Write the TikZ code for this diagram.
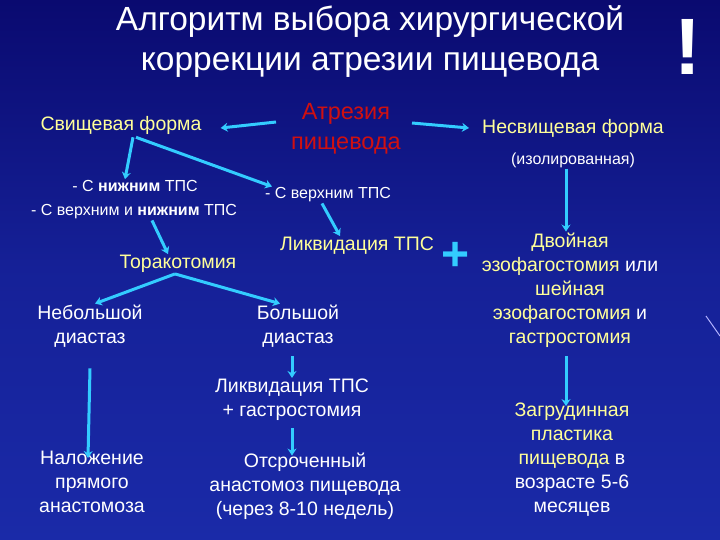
\documentclass[tikz,border=0pt]{standalone}
\usepackage{fontspec}
\setmainfont{Liberation Sans}
\usetikzlibrary{arrows.meta}
\definecolor{bgA}{HTML}{0A0A70}
\definecolor{bgB}{HTML}{1A2AA8}
\definecolor{yel}{HTML}{FFFF99}
\definecolor{redt}{HTML}{D01010}
\definecolor{arr}{HTML}{33CCFF}
\tikzset{
  y=-1pt,x=1pt,
  txt/.style={text=white,align=center,font=\fontsize{19.5}{24}\selectfont,inner sep=1pt},
  ytxt/.style={txt,text=yel},
  small/.style={txt,font=\fontsize{16}{20}\selectfont},
  ar/.style={draw=arr,line width=3pt,-{Stealth[length=7pt,width=9pt]}},
}
\begin{document}
\begin{tikzpicture}
\useasboundingbox (0,0) rectangle (720,540);
\shade[top color=bgA,bottom color=bgB,middle color=bgB!70!bgA] (0,0) rectangle (720,540);
\draw[white!70!blue,line width=1pt] (706,316) -- (720,336);
\node[txt,font=\fontsize{33.5}{40}\selectfont] (title) at (370,42) {Алгоритм выбора хирургической\\коррекции атрезии пищевода};
\node[text=white,font=\bfseries\fontsize{80}{80}\selectfont] (excl) at (688,47) {!};
\node[ytxt] (svf) at (121,125) {Свищевая форма};
\node[txt,text=redt,font=\fontsize{23.5}{30}\selectfont] (atr) at (346,129) {Атрезия\\пищевода};
\node[ytxt] (nsf) at (573,128) {Несвищевая форма};
\node[small] (iso) at (573,160) {(изолированная)};
\node[small] (low) at (135,186) {- С \textbf{нижним} ТПС};
\node[small] (both) at (134,212) {- С верхним и \textbf{нижним} ТПС};
\node[small] (up) at (328,195) {- С верхним ТПС};
\node[ytxt] (tor) at (178,264) {Торакотомия};
\node[ytxt] (liq) at (357,246) {Ликвидация ТПС};
\node[text=arr,font=\bfseries\fontsize{48}{48}\selectfont] (plus) at (456,256) {+};
\node[txt] (dbl) at (570,290) {\textcolor{yel}{Двойная}\\\textcolor{yel}{эзофагостомия} или\\\textcolor{yel}{шейная}\\\textcolor{yel}{эзофагостомия} и\\\textcolor{yel}{гастростомия}};
\node[txt] (small) at (90,326) {Небольшой\\диастаз};
\node[txt] (big) at (298,326) {Большой\\диастаз};
\node[txt] (liqg) at (292,400) {Ликвидация ТПС\\+ гастростомия};
\node[txt] (nal) at (92,482) {Наложение\\прямого\\анастомоза};
\node[txt] (otsr) at (305,486) {Отсроченный\\анастомоз пищевода\\(через 8-10 недель)};
\node[txt] (zag) at (572,460) {\textcolor{yel}{Загрудинная}\\\textcolor{yel}{пластика}\\\textcolor{yel}{пищевода} в\\возрасте 5-6\\месяцев};
\draw[ar] ([xshift=-14pt,yshift=7pt]atr.west) -- ([xshift=18pt,yshift=-3pt]svf.east);
\draw[ar] ([xshift=10pt,yshift=6pt]atr.east) -- ([xshift=-12pt]nsf.west);
\draw[ar] ([xshift=12pt,yshift=-2pt]svf.south) -- ([xshift=-10pt]low.north);
\draw[ar] ([xshift=15pt,yshift=-2pt]svf.south) -- ([xshift=-56pt]up.north);
\draw[ar] ([xshift=-6pt]up.south) -- ([xshift=-17pt]liq.north);
\draw[ar] ([xshift=18pt]both.south) -- ([xshift=-10pt]tor.north);
\draw[ar] ([xshift=-3pt]tor.south) -- ([xshift=5pt]small.north);
\draw[ar] ([xshift=-3pt]tor.south) -- ([xshift=-18pt]big.north);
\draw[ar] ([xshift=-7pt]iso.south) -- ([xshift=-4pt]dbl.north);
\draw[ar] ([yshift=-20pt]small.south) -- ([xshift=-4pt,yshift=-8pt]nal.north);
\draw[ar] ([xshift=-6pt,yshift=-8pt]big.south) -- (liqg.north);
\draw[ar] ([yshift=-6pt]liqg.south) -- ([xshift=-13pt,yshift=-4pt]otsr.north);
\draw[ar] ([xshift=-4pt,yshift=-8pt]dbl.south) -- ([xshift=-6pt,yshift=-4pt]zag.north);
\end{tikzpicture}
\end{document}
